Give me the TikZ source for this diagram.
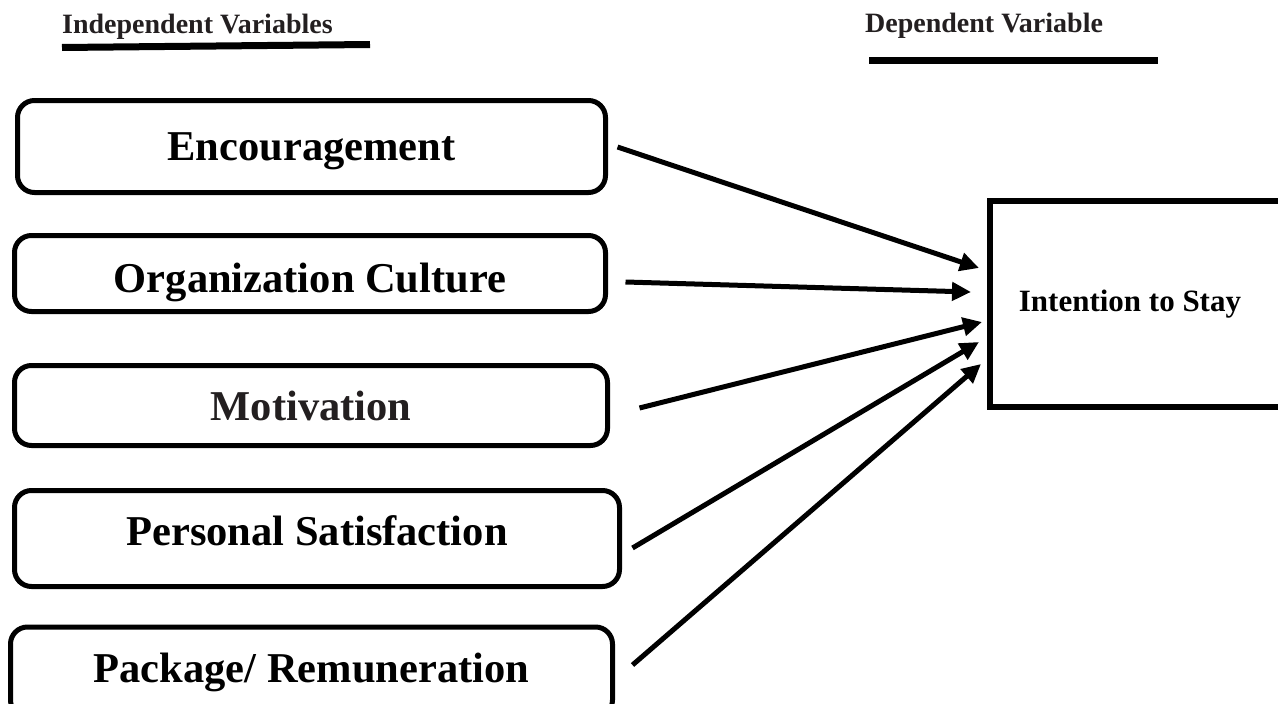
\documentclass[tikz,border=0pt]{standalone}
\usepackage{fontspec}
\setmainfont{Liberation Serif}
\usetikzlibrary{arrows.meta}
\definecolor{inkgray}{HTML}{231F20}
\tikzset{
  varbox/.style={draw=black, line width=5pt, rounded corners=17pt, inner sep=0pt,
    font=\bfseries\fontsize{42.5}{50}\selectfont, text=black},
  depbox/.style={draw=black, line width=6pt, inner sep=0pt,
    font=\bfseries\fontsize{31}{36}\selectfont},
  header/.style={font=\bfseries\fontsize{28}{32}\selectfont, text=inkgray, inner sep=0pt},
  uline/.style={line width=7pt, black},
  arr/.style={line width=5pt, -{Triangle[length=19pt,width=18pt]}}
}
\begin{document}
\begin{tikzpicture}[x=1pt,y=-1pt]
\useasboundingbox (0,0) rectangle (1278,704);
\clip (0,0) rectangle (1278,704);
% headers
\node[header, anchor=base west] (hind) at (62,33) {Independent Variables};
\node[header, anchor=base west] (hdep) at (865,32) {Dependent Variable};
\draw[uline] (62,47.5) -- (370,44.5);
\draw[uline] (869,60.5) -- (1158,60.5);
% independent variable boxes
\node[varbox, minimum width=588, minimum height=92, text height=33pt, text depth=6pt] (enc) at (311.5,146.5) {Encouragement};
\node[varbox, minimum width=591, minimum height=76, text height=38pt, text depth=1pt] (org) at (310,273.5) {Organization Culture};
\node[varbox, minimum width=593, minimum height=80, text=inkgray] (mot) at (311,405.5) {Motivation};
\node[varbox, minimum width=605, minimum height=96, text height=22pt, text depth=8pt] (per) at (317,538.5) {Personal Satisfaction};
\node[varbox, minimum width=602, minimum height=90] (pac) at (311.5,672) {Package/ Remuneration};
% dependent variable box
\node[depbox, minimum width=296, minimum height=206] (its) at (1138,304) {\hspace*{-16pt}Intention to Stay};
% connectors
\draw[arr] ([shift={(9.5,0.5)}]enc.east) -- ([shift={(-8,-36)}]its.west);
\draw[arr] ([shift={(17.5,8.5)}]org.east) -- ([shift={(-16,-12)}]its.west);
\draw[arr] ([shift={(29.5,2.5)}]mot.east) -- ([shift={(-5,18)}]its.west);
\draw[arr] ([shift={(10.5,9.5)}]per.east) -- ([shift={(-8,38)}]its.west);
\draw[arr] ([shift={(17.5,-7)}]pac.east) -- ([shift={(-6,60)}]its.west);
\end{tikzpicture}
\end{document}
